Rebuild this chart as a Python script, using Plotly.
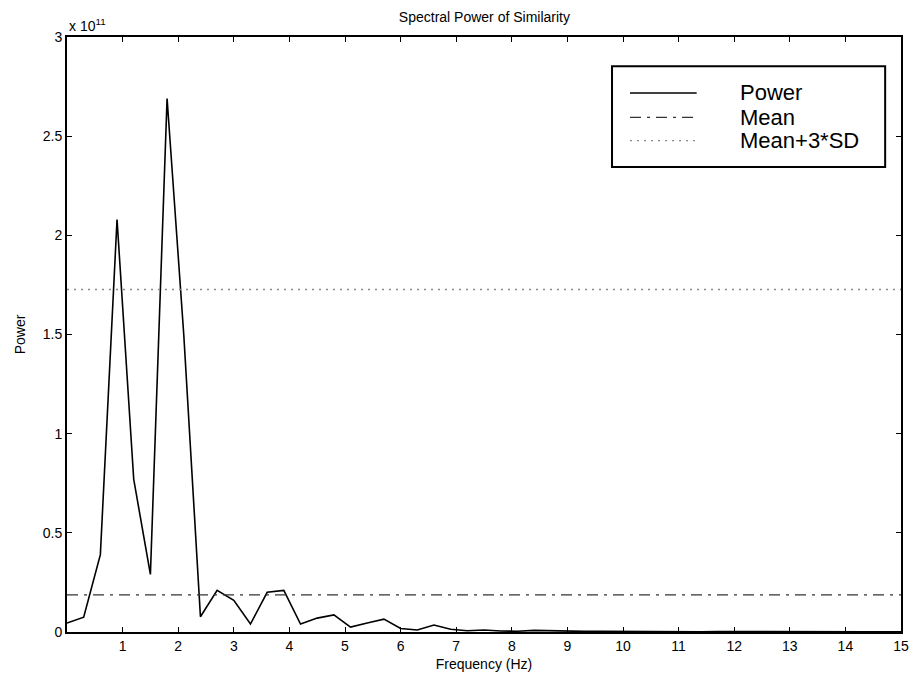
import plotly.graph_objects as go

# ---------------- data (power in units of 1e11) ----------------
freq_hz = [0.0, 0.3, 0.6, 0.9, 1.2, 1.5, 1.8, 2.1, 2.4, 2.7,
           3.0, 3.3, 3.6, 3.9, 4.2, 4.5, 4.8, 5.1, 5.4, 5.7,
           6.0, 6.3, 6.6, 6.9, 7.2, 7.5, 7.8, 8.1, 8.4, 8.7,
           9.0, 9.3, 9.6, 9.9, 10.2, 10.5, 10.8, 11.1, 11.4, 11.7,
           12.0, 12.3, 12.6, 12.9, 13.2, 13.5, 13.8, 14.1, 14.4, 14.7, 15.0]
power_e11 = [0.045, 0.075, 0.39, 2.08, 0.77, 0.29, 2.69, 1.5, 0.077, 0.21,
             0.16, 0.04, 0.20, 0.21, 0.04, 0.07, 0.086, 0.025, 0.045, 0.065,
             0.018, 0.01, 0.035, 0.014, 0.006, 0.01, 0.005, 0.004, 0.008, 0.006,
             0.004, 0.003, 0.004, 0.003, 0.002, 0.003, 0.002, 0.002, 0.0015, 0.002,
             0.0015, 0.001, 0.0015, 0.001, 0.001, 0.001, 0.001, 0.001, 0.0008, 0.0008, 0.0008]
mean_e11 = 0.187
mean3sd_e11 = 1.727
SCALE = 1e11

x_ticks = [1, 2, 3, 4, 5, 6, 7, 8, 9, 10, 11, 12, 13, 14, 15]
y_ticks_e11 = [0, 0.5, 1, 1.5, 2, 2.5, 3]
y_tick_labels = ["0", "0.5", "1", "1.5", "2", "2.5", "3"]
legend_labels = ["Power", "Mean", "Mean+3*SD"]

title_text = "Spectral Power of Similarity"
x_title = "Frequency (Hz)"
y_title = "Power"

# ---------------- figure ----------------
FONT = "Liberation Sans, Arial, sans-serif"
power = [p * SCALE for p in power_e11]
x_min, x_max = freq_hz[0], freq_hz[-1]

fig = go.Figure()
fig.add_trace(go.Scatter(x=freq_hz, y=power, mode="lines",
                         line=dict(color="black", width=1.6),
                         name=legend_labels[0], showlegend=False))
fig.add_trace(go.Scatter(x=[x_min, x_max], y=[mean_e11 * SCALE] * 2, mode="lines",
                         line=dict(color="#333333", width=1.4, dash="11px,6px,3px,6px"),
                         name=legend_labels[1], showlegend=False))
fig.add_trace(go.Scatter(x=[x_min, x_max], y=[mean3sd_e11 * SCALE] * 2, mode="lines",
                         line=dict(color="#888888", width=1.3, dash="2px,5px"),
                         name=legend_labels[2], showlegend=False))

axis_common = dict(showline=True, linecolor="black", linewidth=2, mirror="ticks",
                   ticks="inside", ticklen=5, tickwidth=1, tickcolor="black",
                   showgrid=False, zeroline=False, automargin=False,
                   tickfont=dict(family=FONT, size=14, color="black"))

fig.update_xaxes(range=[x_min, x_max], tickvals=x_ticks,
                 ticktext=[str(t) for t in x_ticks],
                 title=dict(text=x_title, font=dict(family=FONT, size=14, color="black"), standoff=6),
                 **axis_common)
fig.update_yaxes(range=[0, 3 * SCALE], tickvals=[v * SCALE for v in y_ticks_e11],
                 ticktext=y_tick_labels,
                 title=dict(text=y_title, font=dict(family=FONT, size=14, color="black"), standoff=14),
                 **axis_common)

# manual legend (paper coordinates)
lx0, lx1, ly0, ly1 = 0.6535, 0.981, 0.7815, 0.951
fig.add_shape(type="rect", xref="paper", yref="paper", x0=lx0, x1=lx1, y0=ly0, y1=ly1,
              line=dict(color="black", width=2), fillcolor="white", layer="above")
rows_y = [0.906, 0.865, 0.826]
styles = [dict(color="black", width=1.6),
          dict(color="#333333", width=1.4, dash="11px,6px,3px,6px"),
          dict(color="#888888", width=1.3, dash="2px,5px")]
for ry, st, lab in zip(rows_y, styles, legend_labels):
    fig.add_shape(type="line", xref="paper", yref="paper", x0=0.6751, x1=0.755,
                  y0=ry, y1=ry, line=st, layer="above")
    fig.add_annotation(xref="paper", yref="paper", x=0.8046, y=ry, text=lab,
                       showarrow=False, xanchor="left", yanchor="middle",
                       font=dict(family=FONT, size=22, color="black"))

# exponent label
fig.add_annotation(xref="paper", yref="paper", x=0.0, y=1.0, yshift=1, text="x 10<sup>11</sup>",
                   showarrow=False, xanchor="left", yanchor="bottom",
                   font=dict(family=FONT, size=14, color="black"))

fig.update_layout(
    width=914, height=682,
    margin=dict(l=67, r=13, t=37, b=50, autoexpand=False),
    paper_bgcolor="white", plot_bgcolor="white",
    title=dict(text=title_text, x=0.53, xanchor="center", y=0.975, yanchor="middle",
               font=dict(family=FONT, size=14, color="black"), automargin=False),
    showlegend=False,
)

fig.write_html("out.html", config={"displayModeBar": False},
               post_script="document.body.style.margin='0';document.body.style.overflow='hidden';")
